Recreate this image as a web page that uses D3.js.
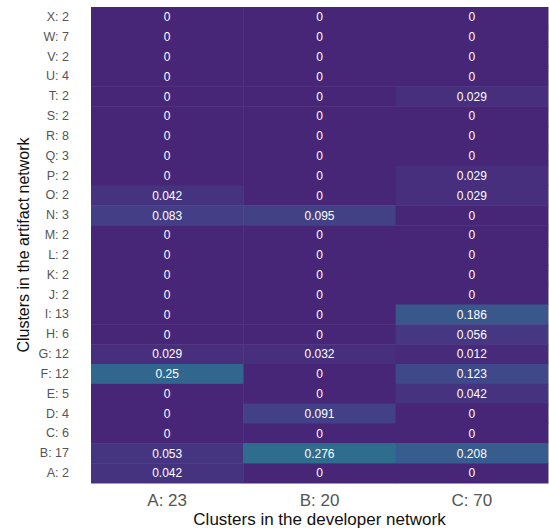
<!DOCTYPE html>
<html>
<head>
<meta charset="utf-8">
<script src="https://cdn.jsdelivr.net/npm/d3@7"></script>
<style>
  body { margin: 0; background: #fff; }
  text { font-family: "Liberation Sans", Arial, sans-serif; }
</style>
</head>
<body>
<div id="chart"></div>
<script>
// columns: clusters in the developer network
var devClusters = ["A: 23", "B: 20", "C: 70"];
// rows: clusters in the artifact network, top to bottom
var artClusters = ["X: 2", "W: 7", "V: 2", "U: 4", "T: 2", "S: 2", "R: 8", "Q: 3",
    "P: 2", "O: 2", "N: 3", "M: 2", "L: 2", "K: 2", "J: 2", "I: 13", "H: 6",
    "G: 12", "F: 12", "E: 5", "D: 4", "C: 6", "B: 17", "A: 2"];
// one array per developer cluster, same order as artClusters
var valuesA = [0, 0, 0, 0, 0, 0, 0, 0, 0, 0.042, 0.083, 0, 0, 0, 0, 0, 0,
    0.029, 0.25, 0, 0, 0, 0.053, 0.042];
var valuesB = [0, 0, 0, 0, 0, 0, 0, 0, 0, 0, 0.095, 0, 0, 0, 0, 0, 0,
    0.032, 0, 0, 0.091, 0, 0.276, 0];
var valuesC = [0, 0, 0, 0, 0.029, 0, 0, 0, 0.029, 0.029, 0, 0, 0, 0, 0, 0.186, 0.056,
    0.012, 0.123, 0.042, 0, 0, 0.208, 0];

var margin = {top: 7, right: 1, bottom: 48, left: 91},
    width = 549 - margin.left - margin.right,
    height = 532 - margin.top - margin.bottom - 1;

var svg = d3.select("#chart").append("svg")
    .attr("width", 549)
    .attr("height", 532);

var g = svg.append("g")
    .attr("transform", "translate(" + margin.left + "," + margin.top + ")");

var x = d3.scaleBand().domain(devClusters).range([0, width]);
var y = d3.scaleBand().domain(artClusters).range([0, height]);
var color = d3.scaleSequential(d3.interpolateViridis).domain([-0.12, 1.0]);

var cols = [valuesA, valuesB, valuesC];
var cells = [];
cols.forEach(function(vals, i) {
    vals.forEach(function(v, j) {
        cells.push({col: devClusters[i], row: artClusters[j], value: v});
    });
});

g.selectAll("rect.cell")
    .data(cells)
    .enter().append("rect")
    .attr("class", "cell")
    .attr("x", function(d) { return x(d.col); })
    .attr("y", function(d) { return y(d.row); })
    .attr("width", x.bandwidth() + 0.5)
    .attr("height", y.bandwidth() + 0.5)
    .attr("fill", function(d) { return color(d.value); });

g.selectAll("text.val")
    .data(cells)
    .enter().append("text")
    .attr("class", "val")
    .attr("x", function(d) { return x(d.col) + x.bandwidth() / 2; })
    .attr("y", function(d) { return y(d.row) + y.bandwidth() / 2; })
    .attr("dy", "0.36em")
    .attr("text-anchor", "middle")
    .attr("fill", "#fff")
    .style("font-size", "12px")
    .text(function(d) { return d3.format("")(d.value); });

// axes, no lines or ticks
var yAxis = g.append("g")
    .call(d3.axisLeft(y).tickSize(0).tickPadding(22));
yAxis.select(".domain").remove();
yAxis.selectAll("text")
    .attr("fill", "#555")
    .style("font-size", "12.5px");

var xAxis = g.append("g")
    .attr("transform", "translate(0," + height + ")")
    .call(d3.axisBottom(x).tickSize(0).tickPadding(11));
xAxis.select(".domain").remove();
xAxis.selectAll("text")
    .attr("fill", "#555")
    .style("font-size", "17px");

svg.append("text")
    .attr("x", margin.left + width / 2)
    .attr("y", 525)
    .attr("text-anchor", "middle")
    .attr("fill", "#111")
    .style("font-size", "17px")
    .text("Clusters in the developer network");

svg.append("text")
    .attr("transform", "translate(29," + (margin.top + height / 2) + ") rotate(-90)")
    .attr("text-anchor", "middle")
    .attr("fill", "#111")
    .style("font-size", "16px")
    .text("Clusters in the artifact network");
</script>
</body>
</html>
